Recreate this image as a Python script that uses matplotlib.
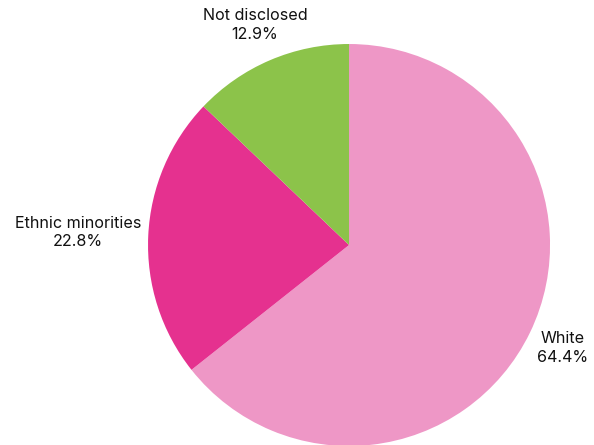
import numpy as np
import matplotlib.pyplot as plt

# data
categories = ["White", "Ethnic minorities", "Not disclosed"]
shares = [64.4, 22.8, 12.9]
colours = ["#EE97C6", "#E5318F", "#8CC34A"]
label_dist = [1.18, 1.35, 1.19]

plt.rcParams['font.family'] = ['Inter', 'DejaVu Sans']

fig = plt.figure(figsize=(5.94, 4.45), dpi=100)
ax = fig.add_axes([0.2492, -0.0023, 0.6768, 0.9034])

wedges, _ = ax.pie(shares, colors=colours, startangle=90, counterclock=False,
                   radius=1.0, wedgeprops=dict(linewidth=0))
ax.set_xlim(-1, 1)
ax.set_ylim(-1, 1)

for w, name, val, d in zip(wedges, categories, shares, label_dist):
    mid = np.deg2rad((w.theta1 + w.theta2) / 2)
    ax.text(d * np.cos(mid), d * np.sin(mid), "{}\n{:.1f}%".format(name, val),
            ha='center', va='center', fontsize=11.6, color='#111111',
            linespacing=1.3, clip_on=False)

fig.savefig("out.png", dpi=100)
